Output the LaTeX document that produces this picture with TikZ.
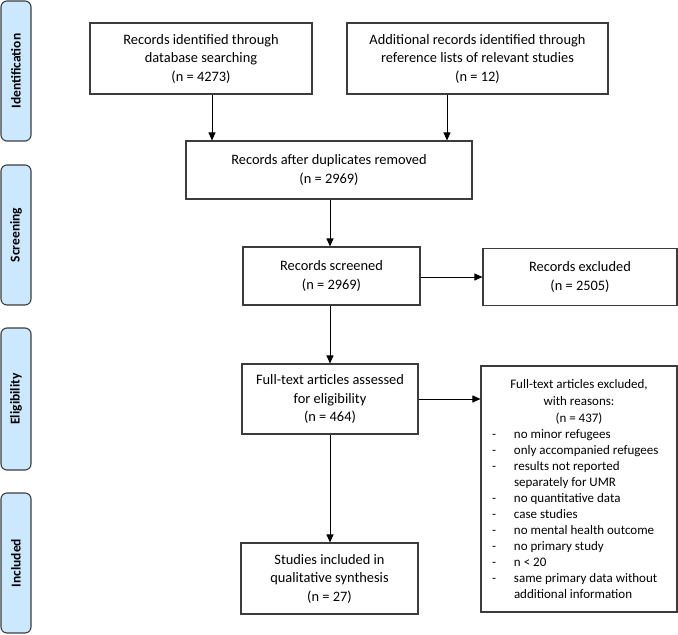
\documentclass[tikz,border=0pt]{standalone}
\usepackage{fontspec}
\setmainfont{Carlito}
\usetikzlibrary{arrows.meta,calc}
\definecolor{barfill}{RGB}{204,232,255}
\definecolor{edge}{RGB}{60,60,60}
\newcommand{\exitem}[1]{\makebox[30pt][l]{\hspace{8pt}-}#1}
\newcommand{\excont}[1]{\makebox[30pt][l]{}#1}
\begin{document}
\begin{tikzpicture}[x=1pt,y=-1pt,
  frame/.style={draw=edge,line width=1.1pt},
  box/.style={frame,align=center,inner sep=2pt,
    font=\fontsize{14.4}{18.5}\selectfont},
  phase/.style={draw=edge,line width=1.1pt,fill=barfill,rounded corners=6pt,
    minimum width=30pt,inner sep=0pt},
  phasetext/.style={rotate=90,font=\fontsize{13.5}{16}\selectfont\bfseries},
  arr/.style={draw=black,line width=0.9pt,-{Triangle[length=8pt,width=7pt]}}]
\useasboundingbox (0,0) rectangle (678,635);
% phase bars
\node[phase,minimum height=140pt] (p1) at (16,71) {};
\node[phasetext] (p1t) at (p1.center) {Identification};
\node[phase,minimum height=140pt] (p2) at (16,235) {};
\node[phasetext] (p2t) at (p2.center) {Screening};
\node[phase,minimum height=142pt] (p3) at (16,399) {};
\node[phasetext] (p3t) at (p3.center) {Eligibility};
\node[phase,minimum height=140pt] (p4) at (16,563) {};
\node[phasetext] (p4t) at (p4.center) {Included};
% boxes
\node[box,minimum width=222pt,minimum height=71pt] (b1) at (201,58.5)
  {Records identified through\\database searching\\(n = 4273)};
\node[box,minimum width=261pt,minimum height=71pt] (b2) at (477.5,58.5)
  {Additional records identified through\\reference lists of relevant studies\\(n = 12)};
\node[box,minimum width=286pt,minimum height=58pt] (b3) at (329,170)
  {Records after duplicates removed\\(n = 2969)};
\node[box,minimum width=177pt,minimum height=58pt] (b4) at (331.5,276)
  {Records screened\\(n = 2969)};
\node[box,minimum width=194pt,minimum height=57pt] (e1) at (580,277)
  {Records excluded\\(n = 2505)};
\node[box,minimum width=176pt,minimum height=70pt] (b5) at (330,399)
  {Full-text articles assessed\\for eligibility\\(n = 464)};
\node[frame,minimum width=196pt,minimum height=246pt,inner sep=0pt] (e2) at (579,489)
  {\begin{minipage}{190pt}\fontsize{13}{16}\selectfont
   \centering Full-text articles excluded,\\[1pt]with reasons:\\[1pt](n = 437)\par
   \raggedright
   \exitem{no minor refugees}\\
   \exitem{only accompanied refugees}\\
   \exitem{results not reported}\\
   \excont{separately for UMR}\\
   \exitem{no quantitative data}\\
   \exitem{case studies}\\
   \exitem{no mental health outcome}\\
   \exitem{no primary study}\\
   \exitem{n < 20}\\
   \exitem{same primary data without}\\
   \excont{additional information}\par
   \end{minipage}};
\node[box,minimum width=177pt,minimum height=71pt] (b7) at (329.5,578.5)
  {Studies included in\\qualitative synthesis\\(n = 27)};
% connectors
\draw[arr] (b1.south -| 212,0) -- (b3.north -| 212,0);
\draw[arr] (b2.south -| 447,0) -- (b3.north -| 447,0);
\draw[arr] (b3.south -| 330,0) -- (b4.north -| 330,0);
\draw[arr] (b4.east |- 0,277) -- (e1.west |- 0,277);
\draw[arr] (b4.south -| 330,0) -- (b5.north -| 330,0);
\draw[arr] (b5.east |- 0,399) -- (e2.west |- 0,399);
\draw[arr] (b5.south -| 330,0) -- (b7.north -| 330,0);
\end{tikzpicture}
\end{document}
